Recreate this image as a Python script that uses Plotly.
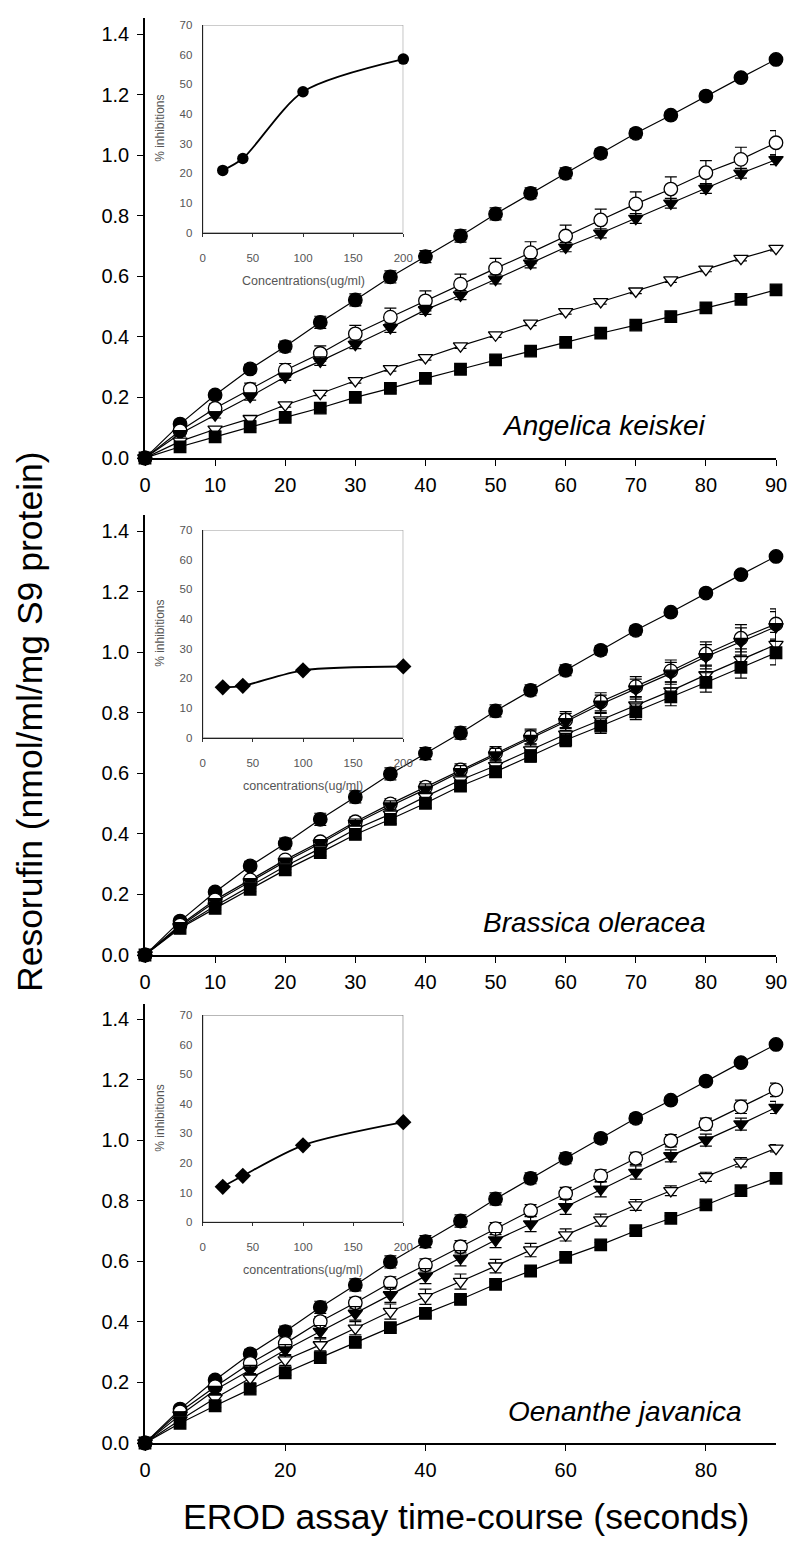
import plotly.graph_objects as go

# ---------------- data ----------------
time_s = [0, 5, 10, 15, 20, 25, 30, 35, 40, 45, 50, 55, 60, 65, 70, 75, 80, 85, 90]

control = [0, 0.112, 0.208, 0.294, 0.368, 0.448, 0.522, 0.598, 0.665, 0.733, 0.806,
           0.874, 0.940, 1.006, 1.072, 1.132, 1.195, 1.256, 1.316]
control_err = [0.005, 0.01, 0.012, 0.015, 0.018, 0.02, 0.02, 0.02, 0.02, 0.02, 0.02,
               0.018, 0.018, 0.015, 0.015, 0.012, 0.012, 0.01, 0.01]

# Angelica keiskei
ak_ocirc = [0, 0.090, 0.164, 0.227, 0.290, 0.345, 0.410, 0.465, 0.519, 0.574, 0.626,
            0.678, 0.733, 0.786, 0.839, 0.888, 0.942, 0.986, 1.041]
ak_ocirc_err = [0, 0.01, 0.015, 0.02, 0.022, 0.025, 0.028, 0.03, 0.033, 0.033, 0.033,
                0.036, 0.036, 0.036, 0.04, 0.04, 0.04, 0.04, 0.04]
ak_ftri = [0, 0.080, 0.142, 0.203, 0.268, 0.320, 0.375, 0.430, 0.489, 0.538, 0.590,
           0.643, 0.696, 0.742, 0.791, 0.841, 0.890, 0.940, 0.985]
ak_ftri_err = [0, 0.008, 0.01, 0.012, 0.012, 0.014, 0.014, 0.015, 0.015, 0.015, 0.015,
               0.015, 0.015, 0.015, 0.016, 0.016, 0.016, 0.016, 0.016]
ak_otri = [0, 0.055, 0.095, 0.130, 0.175, 0.213, 0.255, 0.295, 0.331, 0.370, 0.406,
           0.445, 0.483, 0.516, 0.551, 0.588, 0.623, 0.659, 0.692]
ak_otri_err = [0, 0.005, 0.006, 0.006, 0.007, 0.007, 0.008, 0.008, 0.008, 0.008, 0.008,
               0.008, 0.008, 0.008, 0.008, 0.008, 0.008, 0.008, 0.008]
ak_sq = [0, 0.037, 0.070, 0.103, 0.134, 0.165, 0.200, 0.230, 0.263, 0.293, 0.324,
         0.353, 0.382, 0.412, 0.439, 0.467, 0.496, 0.524, 0.555]
ak_sq_err = [0, 0.004, 0.005, 0.005, 0.006, 0.006, 0.006, 0.007, 0.007, 0.007, 0.007,
             0.007, 0.007, 0.007, 0.007, 0.007, 0.007, 0.007, 0.007]

# Brassica oleracea
bo_ocirc = [0, 0.099, 0.182, 0.248, 0.314, 0.374, 0.440, 0.499, 0.554, 0.611, 0.666,
            0.721, 0.776, 0.836, 0.886, 0.938, 0.994, 1.046, 1.093]
bo_ocirc_err = [0, 0.005, 0.008, 0.01, 0.012, 0.013, 0.015, 0.017, 0.018, 0.02, 0.022,
                0.025, 0.028, 0.03, 0.033, 0.036, 0.04, 0.045, 0.05]
bo_ftri = [0, 0.095, 0.176, 0.242, 0.308, 0.368, 0.434, 0.492, 0.547, 0.605, 0.660,
           0.715, 0.770, 0.828, 0.878, 0.930, 0.985, 1.035, 1.084]
bo_ftri_err = [0, 0.005, 0.008, 0.01, 0.012, 0.013, 0.015, 0.017, 0.018, 0.02, 0.022,
               0.025, 0.028, 0.03, 0.033, 0.036, 0.04, 0.045, 0.05]
bo_otri = [0, 0.092, 0.162, 0.228, 0.293, 0.352, 0.415, 0.465, 0.523, 0.578, 0.625,
           0.677, 0.729, 0.776, 0.825, 0.872, 0.925, 0.975, 1.025]
bo_otri_err = [0, 0.004, 0.006, 0.008, 0.01, 0.011, 0.012, 0.014, 0.015, 0.016, 0.018,
               0.02, 0.022, 0.024, 0.026, 0.029, 0.032, 0.036, 0.04]
bo_sq = [0, 0.088, 0.154, 0.217, 0.281, 0.338, 0.398, 0.448, 0.501, 0.558, 0.605,
         0.657, 0.710, 0.756, 0.803, 0.852, 0.900, 0.950, 0.998]
bo_sq_err = [0, 0.004, 0.006, 0.008, 0.01, 0.011, 0.012, 0.014, 0.015, 0.016, 0.018,
             0.02, 0.022, 0.024, 0.026, 0.029, 0.032, 0.036, 0.04]

# Oenanthe javanica
oj_ocirc = [0, 0.103, 0.186, 0.263, 0.329, 0.401, 0.463, 0.529, 0.588, 0.648, 0.708,
            0.767, 0.824, 0.882, 0.940, 0.998, 1.053, 1.110, 1.166]
oj_ocirc_err = [0, 0.008, 0.01, 0.012, 0.014, 0.016, 0.018, 0.02, 0.02, 0.02, 0.02,
                0.02, 0.02, 0.02, 0.02, 0.02, 0.02, 0.022, 0.022]
oj_ftri = [0, 0.092, 0.175, 0.241, 0.307, 0.368, 0.428, 0.489, 0.551, 0.610, 0.670,
           0.723, 0.780, 0.838, 0.893, 0.948, 1.000, 1.053, 1.108]
oj_ftri_err = [0, 0.01, 0.012, 0.015, 0.018, 0.02, 0.022, 0.025, 0.025, 0.025, 0.025,
               0.025, 0.025, 0.025, 0.022, 0.02, 0.02, 0.02, 0.02]
oj_otri = [0, 0.076, 0.148, 0.214, 0.274, 0.324, 0.379, 0.434, 0.483, 0.533, 0.584,
           0.637, 0.687, 0.736, 0.786, 0.833, 0.879, 0.927, 0.973]
oj_otri_err = [0, 0.01, 0.012, 0.015, 0.018, 0.02, 0.022, 0.025, 0.025, 0.025, 0.022,
               0.022, 0.02, 0.02, 0.018, 0.016, 0.015, 0.015, 0.012]
oj_sq = [0, 0.065, 0.123, 0.178, 0.232, 0.282, 0.332, 0.381, 0.428, 0.474, 0.524,
         0.568, 0.613, 0.654, 0.701, 0.742, 0.786, 0.833, 0.874]
oj_sq_err = [0, 0.005, 0.006, 0.007, 0.008, 0.008, 0.008, 0.008, 0.008, 0.008, 0.008,
             0.008, 0.008, 0.008, 0.008, 0.008, 0.008, 0.008, 0.008]

# Insets: % inhibition vs concentration
conc = [20, 40, 100, 200]
ak_inhib = [21, 25, 47.5, 58.5]
bo_inhib = [17, 17.5, 22.7, 24]
oj_inhib = [12, 15.7, 26, 33.8]

species = ["Angelica keiskei", "Brassica oleracea", "Oenanthe javanica"]
inset_xtitles = ["Concentrations(ug/ml)", "concentrations(ug/ml)", "concentrations(ug/ml)"]
main_xticks = [[0, 10, 20, 30, 40, 50, 60, 70, 80, 90],
               [0, 10, 20, 30, 40, 50, 60, 70, 80, 90],
               [0, 20, 40, 60, 80]]
yticks = [0.0, 0.2, 0.4, 0.6, 0.8, 1.0, 1.2, 1.4]
inset_yticks = [0, 10, 20, 30, 40, 50, 60, 70]
inset_xticks = [0, 50, 100, 150, 200]

# ---------------- layout geometry (page pixels) ----------------
OFF = 8                      # default body margin of the html page
W, H = 800 - OFF, 1544 - OFF
PX_L, PX_R = 145, 776
panels_px = [(18, 458), (515, 955), (1004, 1443)]  # top, bottom of main plot
insets_px = [(25, 232.7), (530, 737.7), (1015, 1222.3)]
INS_L, INS_R = 202.7, 403.3
species_pos = [(604, 425), (594, 922), (625, 1411)]


def fx(px):
    return (px - OFF) / W


def fy(py):
    return 1 - (py - OFF) / H


MAIN_FONT = "Arial, Liberation Sans, Helvetica, sans-serif"
INS_FONT = "Arial, Liberation Sans, sans-serif"
GREY = "#555555"

fig = go.Figure()

panel_series = [
    [(control, control_err, "circle", "black"), (ak_ocirc, ak_ocirc_err, "circle", "white"),
     (ak_ftri, ak_ftri_err, "triangle-down", "black"), (ak_otri, ak_otri_err, "triangle-down", "white"),
     (ak_sq, ak_sq_err, "square", "black")],
    [(control, control_err, "circle", "black"), (bo_ocirc, bo_ocirc_err, "circle", "white"),
     (bo_ftri, bo_ftri_err, "triangle-down", "black"), (bo_otri, bo_otri_err, "triangle-down", "white"),
     (bo_sq, bo_sq_err, "square", "black")],
    [(control, control_err, "circle", "black"), (oj_ocirc, oj_ocirc_err, "circle", "white"),
     (oj_ftri, oj_ftri_err, "triangle-down", "black"), (oj_otri, oj_otri_err, "triangle-down", "white"),
     (oj_sq, oj_sq_err, "square", "black")],
]
inset_data = [(ak_inhib, "circle", 11.5), (bo_inhib, "diamond", 12.5), (oj_inhib, "diamond", 12.5)]
inset_frame_col = ["#9a9a9a", "#9a9a9a", "#707070"]

sizes = {"circle": 13.5, "triangle-down": 12.5, "square": 11.5}

layout = dict(width=W, height=H, margin=dict(l=0, r=0, t=0, b=0),
              paper_bgcolor="white", plot_bgcolor="rgba(0,0,0,0)", showlegend=False)
annotations = []
shapes = []

for i in range(3):
    xa = "x" if i == 0 else f"x{i+1}"
    ya = "y" if i == 0 else f"y{i+1}"
    top, bot = panels_px[i]
    ymax = 1.4 * (bot - top) / 424.0
    for (vals, err, sym, fill) in panel_series[i]:
        fig.add_trace(go.Scatter(
            x=time_s, y=vals, xaxis=xa, yaxis=ya, mode="lines+markers",
            line=dict(color="black", width=1.2),
            marker=dict(symbol=sym, size=sizes[sym], color=fill,
                        line=dict(color="black", width=1.3)),
            error_y=dict(type="data", array=err, visible=True, color="black",
                         thickness=1.2, width=6),
            cliponaxis=False, hoverinfo="skip"))
    kx = "xaxis" if i == 0 else f"xaxis{i+1}"
    ky = "yaxis" if i == 0 else f"yaxis{i+1}"
    layout[kx] = dict(domain=[fx(PX_L), fx(PX_R)], anchor=ya, range=[0, 90],
                      tickvals=main_xticks[i], ticks="outside", ticklen=6, tickwidth=1.3,
                      tickcolor="black", showline=True, linecolor="black", linewidth=1.5,
                      showgrid=False, zeroline=False, automargin=False,
                      tickfont=dict(family=MAIN_FONT, size=20, color="black"),
                      ticklabelstandoff=2)
    layout[ky] = dict(domain=[fy(bot), fy(top)], anchor=xa, range=[0, ymax],
                      tickvals=yticks, ticktext=[f"{v:.1f}" for v in yticks],
                      ticks="outside", ticklen=6, tickwidth=1.3, tickcolor="black",
                      showline=True, linecolor="black", linewidth=1.5,
                      showgrid=False, zeroline=False, automargin=False,
                      tickfont=dict(family=MAIN_FONT, size=20, color="black"),
                      ticklabelstandoff=4)
    sx, sy = species_pos[i]
    annotations.append(dict(text=f"<i>{species[i]}</i>", x=fx(sx), y=fy(sy), xref="paper",
                            yref="paper", showarrow=False, xanchor="center", yanchor="middle",
                            font=dict(family=MAIN_FONT, size=28, color="black")))

# insets
for i in range(3):
    n = i + 4
    xa, ya = f"x{n}", f"y{n}"
    itop, ibot = insets_px[i]
    vals, sym, msize = inset_data[i]
    fig.add_trace(go.Scatter(
        x=conc, y=vals, xaxis=xa, yaxis=ya, mode="lines+markers",
        line=dict(color="black", width=1.8, shape="spline", smoothing=0.8),
        marker=dict(symbol=sym, size=msize, color="black"),
        cliponaxis=False, hoverinfo="skip"))
    layout[f"xaxis{n}"] = dict(domain=[fx(INS_L), fx(INS_R)], anchor=ya, range=[0, 200],
                               tickvals=inset_xticks, ticks="outside", ticklen=3,
                               tickcolor="#333", showline=True, linecolor="#222",
                               linewidth=1.2, showgrid=False, zeroline=False,
                               automargin=False, ticklabelstandoff=11,
                               tickfont=dict(family=INS_FONT, size=11.5, color=GREY))
    layout[f"yaxis{n}"] = dict(domain=[fy(ibot), fy(itop)], anchor=xa, range=[0, 70],
                               tickvals=inset_yticks, ticks="", showline=True,
                               linecolor="#222", linewidth=1.2, showgrid=False,
                               zeroline=False, automargin=False, ticklabelstandoff=7,
                               tickfont=dict(family=INS_FONT, size=11.5, color=GREY))
    shapes.append(dict(type="rect", xref=xa, yref=ya, x0=0, x1=200, y0=0, y1=70,
                       line=dict(color=inset_frame_col[i], width=1.2),
                       fillcolor="white", layer="below"))
    annotations.append(dict(text="% inhibitions", x=fx(160), y=fy((itop + ibot) / 2),
                            xref="paper", yref="paper", showarrow=False, textangle=-90,
                            xanchor="center", yanchor="middle",
                            font=dict(family=INS_FONT, size=12, color=GREY)))
    annotations.append(dict(text=inset_xtitles[i], x=fx((INS_L + INS_R) / 2),
                            y=fy(ibot + 48), xref="paper", yref="paper", showarrow=False,
                            xanchor="center", yanchor="middle",
                            font=dict(family=INS_FONT, size=12.5, color=GREY)))

annotations.append(dict(text="Resorufin (nmol/ml/mg S9 protein)", x=fx(30), y=fy(722),
                        xref="paper", yref="paper", showarrow=False, textangle=-90,
                        xanchor="center", yanchor="middle",
                        font=dict(family=MAIN_FONT, size=35.5, color="black")))
annotations.append(dict(text="EROD assay time-course (seconds)", x=fx(466), y=fy(1517),
                        xref="paper", yref="paper", showarrow=False,
                        xanchor="center", yanchor="middle",
                        font=dict(family=MAIN_FONT, size=35.5, color="black")))

layout["annotations"] = annotations
layout["shapes"] = shapes
fig.update_layout(**layout)
fig.write_html("out.html")
